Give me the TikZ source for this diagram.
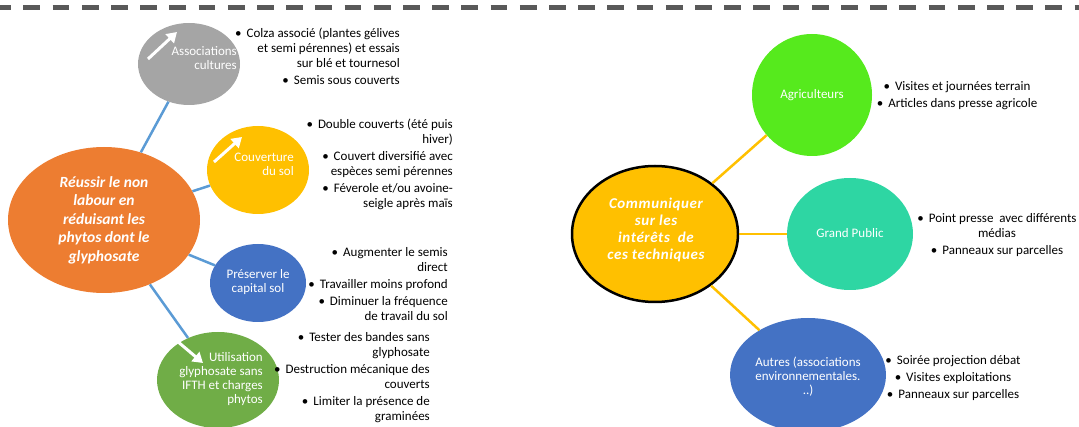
\documentclass[tikz,border=0pt]{standalone}
\usepackage{fontspec}
\setmainfont{Carlito}
\usetikzlibrary{positioning,shapes.geometric,arrows.meta}
\definecolor{orangeb}{HTML}{ED7D31}
\definecolor{grisb}{HTML}{A5A5A5}
\definecolor{jauneb}{HTML}{FFC000}
\definecolor{bleub}{HTML}{4472C4}
\definecolor{vertb}{HTML}{70AD47}
\definecolor{vertvif}{HTML}{56EA1D}
\definecolor{turq}{HTML}{2ED6A3}
\definecolor{lienbleu}{HTML}{5B9BD5}
\definecolor{tirets}{HTML}{595959}
\tikzstyle{bulle} = [ellipse, inner sep=0pt, draw=none]
\tikzstyle{etiq} = [text=white, inner sep=0pt, font=\fontsize{13}{14}\selectfont]
\tikzstyle{titre} = [text=white, inner sep=0pt, align=center]
\tikzstyle{liste} = [inner sep=0pt, font=\fontsize{13}{15}\selectfont]
\tikzstyle{lien} = [line width=2.5pt]
\tikzstyle{fleche} = [white, line width=3pt, -{Triangle[length=10pt,width=12pt]}]
\newcommand{\puce}{\textbullet\hspace{5pt}}

\begin{document}
\begin{tikzpicture}[x=1pt, y=-1pt]
		\useasboundingbox (0,0) rectangle (1079,427);
		\draw [tirets, line width=4.5pt, dash pattern=on 16.7pt off 12.5pt, dash phase=5.8pt] (0,7.5) -- (1079,7.5);

		% left part
		\node (ac) [bulle, fill=grisb, minimum width=102pt, minimum height=82pt] at (189,64) {};
		\node (cs) [bulle, fill=jauneb, minimum width=102pt, minimum height=88pt] at (258,170) {};
		\node (ps) [bulle, fill=bleub, minimum width=96pt, minimum height=78pt] at (258,283) {};
		\node (ug) [bulle, fill=vertb, minimum width=122pt, minimum height=96pt] at (218,380) {};
		\node (rn) [bulle, fill=orangeb, minimum width=192pt, minimum height=146pt] at (104,220) {};

		\draw [lien, lienbleu] (rn) -- (ac);
		\draw [lien, lienbleu] (rn) -- (cs);
		\draw [lien, lienbleu] (rn) -- (ps);
		\draw [lien, lienbleu] (rn) -- (ug);

		\node (rn-t) [titre, font=\fontsize{15.5}{18.5}\selectfont\bfseries\itshape] at (rn) {Réussir le non\\labour en\\réduisant les\\phytos dont le\\glyphosate};
		\node (ac-t) [etiq, align=right, anchor=east] at (237,58) {Associations\\cultures};
		\node (cs-t) [etiq, align=right, anchor=east] at (294,164) {Couverture\\du sol};
		\node (ps-t) [etiq, align=center] at (258,282) {Préserver le\\capital sol};
		\node (ug-t) [etiq, align=right, anchor=east] at (263,379) {Utilisation\\glyphosate sans\\IFTH et charges\\phytos};

		\draw [fleche] ([shift={(-41,-5)}]ac.center) -- ++(29,-27);
		\draw [fleche] ([shift={(-44,-8)}]cs.center) -- ++(28,-25);
		\draw [fleche] ([shift={(-41,-39)}]ug.center) -- ++(26,22);

		\node (ac-l) [liste, align=right, anchor=north east] at (400,28) {\puce Colza associé (plantes gélives\\et semi pérennes) et essais\\sur blé et tournesol\\[2pt]\puce Semis sous couverts};
		\node (cs-l) [liste, align=right, anchor=north east] at (453,119) {\puce Double couverts (été puis\\hiver)\\[2pt]\puce Couvert diversifié avec\\espèces semi pérennes\\[2pt]\puce Féverole et/ou avoine-\\seigle après maïs};
		\node (ps-l) [liste, align=right, anchor=north east] at (448,247) {\puce Augmenter le semis\\direct\\[2pt]\puce Travailler moins profond\\[2pt]\puce Diminuer la fréquence\\de travail du sol};
		\node (ug-l) [liste, align=right, anchor=north east] at (430,332) {\puce Tester des bandes sans\\glyphosate\\[2pt]\puce Destruction mécanique des\\couverts\\[2pt]\puce Limiter la présence de\\graminées};

		% right part
		\node (ag) [bulle, fill=vertvif, minimum width=120pt, minimum height=122pt] at (812,95) {};
		\node (gp) [bulle, fill=turq, minimum width=126pt, minimum height=112pt] at (850,234) {};
		\node (au) [bulle, fill=bleub, minimum width=156pt, minimum height=114pt] at (808,375) {};
		\node (co) [bulle, fill=jauneb, draw=black, line width=2.5pt, minimum width=166pt, minimum height=136pt] at (655,234) {};

		\draw [lien, jauneb] (co) -- (ag);
		\draw [lien, jauneb] (co) -- (gp);
		\draw [lien, jauneb] (co) -- (au);

		\node (co-t) [titre, font=\fontsize{15}{17}\selectfont\bfseries\itshape\addfontfeature{LetterSpace=4}] at (656,230) {Communiquer\\sur les\\intérêts~ de\\ces techniques};
		\node (ag-t) [etiq] at (ag) {Agriculteurs};
		\node (gp-t) [etiq] at (850,233) {Grand Public};
		\node (au-t) [etiq, align=center] at (808,377) {Autres (associations\\environnementales.\\..)};

		\node (ag-l) [liste, align=center, anchor=north] at (957,81) {\puce Visites et journées terrain\\[2pt]\puce Articles dans presse agricole};
		\node (gp-l) [liste, align=center, anchor=north] at (997,213) {\puce Point presse~ avec différents\\médias\\[2pt]\puce Panneaux sur parcelles};
		\node (au-l) [liste, align=center, anchor=north] at (953,355) {\puce Soirée projection débat\\[2pt]\puce Visites exploitations\\[2pt]\puce Panneaux sur parcelles};
\end{tikzpicture}
\end{document}
